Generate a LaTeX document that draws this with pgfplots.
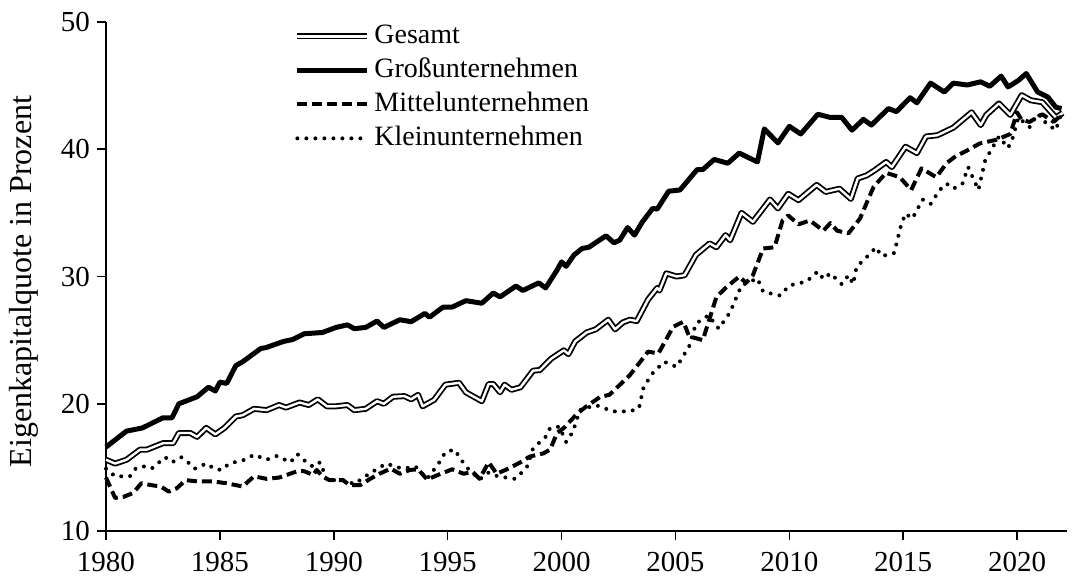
\documentclass[border=0pt]{standalone}
\usepackage{fontspec}
\setmainfont{Liberation Serif}
\usepackage{pgfplots}
\pgfplotsset{compat=1.18}
\begin{document}
\begin{tikzpicture}
\useasboundingbox (-53pt,-27pt) rectangle (484.5pt,265.5pt);
\begin{axis}[
  scale only axis, width=480.5pt, height=254.5pt,
  at={(0,0)}, anchor=south west,
  xmin=1980, xmax=2022.19, ymin=10, ymax=50,
  axis x line*=bottom, axis y line*=left,
  x axis line style={line width=1pt},
  y axis line style={line width=0.8pt},
  xtick={1980,1985,...,2020}, ytick={10,20,...,50},
  tick align=outside, major tick length=4.5pt,
  tick style={line width=0.8pt, black},
  x tick label style={/pgf/number format/1000 sep={}, yshift=-2.5pt},
  /pgf/number format/assume math mode=true,
  tick label style={font=\fontsize{14.5}{16}\selectfont},
  ylabel={Eigenkapitalquote in Prozent},
  ylabel style={font=\fontsize{16}{18}\selectfont, at={(axis description cs:-0.085,0.49)}, anchor=center},
  legend style={draw=none, fill=none, at={(axis description cs:0.1956,1.006)}, anchor=north west,
    inner sep=0pt, row sep=0pt, font=\fontsize{14}{16}\selectfont,
    nodes={text height=10pt, text depth=3pt, inner sep=2pt}},
  legend cell align=left,
  legend image code/.code={\draw[#1] (0pt,0pt) -- (35pt,0pt);},
  clip=false,
  line join=round,
]
\addplot[black, line width=0.9pt, double=white, double distance=1.2pt] coordinates {
(1980.0,15.6)(1980.4,15.3)(1980.9,15.6)(1981.5,16.4)(1981.8,16.4)(1982.5,16.9)(1982.95,16.9)
(1983.2,17.7)(1983.7,17.7)(1984.0,17.4)(1984.4,18.1)(1984.8,17.6)(1985.2,18.1)(1985.7,19.0)
(1986.0,19.1)(1986.5,19.6)(1987.05,19.5)(1987.6,19.9)(1987.9,19.7)(1988.5,20.1)(1988.9,19.9)
(1989.3,20.35)(1989.7,19.8)(1990.1,19.8)(1990.6,19.9)(1990.9,19.5)(1991.4,19.6)(1991.9,20.2)
(1992.2,20.0)(1992.6,20.55)(1993.1,20.6)(1993.4,20.35)(1993.7,20.7)(1993.9,19.8)(1994.4,20.3)
(1994.9,21.5)(1995.5,21.65)(1995.8,20.9)(1996.5,20.2)(1996.8,21.55)(1997.0,21.55)(1997.3,20.9)
(1997.5,21.5)(1997.8,21.1)(1998.2,21.3)(1998.75,22.6)(1999.05,22.65)(1999.55,23.55)(2000.1,24.2)
(2000.3,23.9)(2000.6,24.9)(2001.1,25.6)(2001.5,25.85)(2002.05,26.6)(2002.35,25.85)(2002.7,26.4)
(2003.0,26.6)(2003.3,26.5)(2003.8,28.2)(2004.2,29.1)(2004.3,28.9)(2004.6,30.25)(2005.05,30.0)
(2005.4,30.1)(2005.9,31.7)(2006.5,32.6)(2006.8,32.3)(2007.2,33.25)(2007.4,32.85)(2007.9,35.0)
(2008.4,34.3)(2009.15,36.05)(2009.5,35.35)(2009.95,36.5)(2010.4,36.0)(2011.2,37.2)(2011.6,36.65)
(2012.2,36.9)(2012.7,36.1)(2013.0,37.7)(2013.4,37.95)(2013.75,38.35)(2014.25,39.0)(2014.5,38.6)
(2015.1,40.2)(2015.6,39.7)(2016.0,41.0)(2016.5,41.1)(2017.2,41.7)(2017.6,42.3)(2018.0,42.9)
(2018.4,41.9)(2018.65,42.7)(2019.2,43.6)(2019.7,42.7)(2020.2,44.25)(2020.6,43.85)(2021.1,43.7)
(2021.7,42.5)(2022.0,42.85)
};
\addlegendentry{Gesamt}
\addplot[black, line width=2.5pt] coordinates {
(1980.0,16.6)(1980.9,17.85)(1981.6,18.1)(1982.5,18.9)(1982.9,18.9)(1983.2,20.0)(1984.0,20.55)
(1984.5,21.3)(1984.8,21.0)(1985.0,21.7)(1985.3,21.6)(1985.7,23.0)(1986.0,23.3)(1986.8,24.35)
(1987.0,24.4)(1987.8,24.9)(1988.2,25.05)(1988.7,25.5)(1989.5,25.6)(1990.1,26.0)(1990.6,26.2)
(1990.9,25.9)(1991.4,26.0)(1991.9,26.5)(1992.2,26.0)(1992.9,26.6)(1993.4,26.45)(1994.0,27.1)
(1994.2,26.8)(1994.8,27.6)(1995.2,27.6)(1995.8,28.1)(1996.5,27.9)(1997.0,28.7)(1997.3,28.4)
(1998.0,29.25)(1998.3,28.9)(1999.0,29.5)(1999.3,29.1)(1999.8,30.5)(2000.0,31.15)(2000.2,30.8)
(2000.55,31.7)(2000.9,32.2)(2001.2,32.3)(2001.95,33.2)(2002.3,32.65)(2002.55,32.85)(2002.9,33.85)
(2003.2,33.25)(2003.55,34.3)(2004.0,35.35)(2004.2,35.3)(2004.7,36.7)(2005.2,36.8)(2005.95,38.4)
(2006.2,38.4)(2006.7,39.2)(2007.3,38.9)(2007.8,39.7)(2008.6,39.0)(2008.9,41.6)(2009.5,40.5)
(2010.0,41.8)(2010.5,41.2)(2011.25,42.75)(2011.8,42.5)(2012.3,42.5)(2012.75,41.5)(2013.25,42.35)
(2013.6,41.9)(2014.35,43.2)(2014.7,42.95)(2015.3,44.05)(2015.6,43.65)(2016.2,45.2)(2016.8,44.5)
(2017.2,45.2)(2017.8,45.05)(2018.4,45.3)(2018.8,44.95)(2019.3,45.75)(2019.6,44.9)(2020.05,45.4)
(2020.4,45.95)(2020.9,44.5)(2021.35,44.1)(2021.7,43.3)(2021.95,43.2)
};
\addlegendentry{Großunternehmen}
\addplot[black, line width=2pt, dash pattern=on 5pt off 2.5pt] coordinates {
(1980.0,14.2)(1980.4,12.6)(1980.8,12.7)(1981.2,13.0)(1981.55,13.75)(1982.0,13.6)(1982.4,13.5)
(1982.75,13.1)(1983.1,13.35)(1983.5,14.0)(1984.0,13.9)(1984.7,13.9)(1985.3,13.75)(1986.0,13.5)
(1986.5,14.3)(1987.05,14.1)(1987.6,14.2)(1988.4,14.7)(1988.7,14.7)(1989.1,14.4)(1989.25,14.8)
(1989.5,14.3)(1989.8,14.0)(1990.4,14.0)(1990.7,13.6)(1991.15,13.6)(1991.6,14.1)(1992.0,14.5)
(1992.5,14.9)(1992.9,14.5)(1993.35,14.8)(1993.7,14.85)(1994.1,14.05)(1994.7,14.5)(1995.2,14.85)
(1995.7,14.5)(1996.1,14.65)(1996.4,14.1)(1996.8,15.4)(1997.15,14.5)(1997.6,14.85)(1998.2,15.4)
(1998.6,15.85)(1999.2,16.1)(1999.5,16.4)(1999.8,17.7)(2000.1,18.1)(2000.7,19.25)(2001.1,19.8)
(2001.7,20.55)(2002.1,20.7)(2003.0,22.25)(2003.5,23.4)(2003.8,24.1)(2004.25,23.95)(2004.9,26.05)
(2005.35,26.45)(2005.6,25.3)(2006.2,25.0)(2006.8,28.4)(2007.2,29.1)(2007.8,30.0)(2008.1,29.5)
(2008.4,30.1)(2008.85,32.2)(2009.35,32.3)(2009.7,34.4)(2009.95,34.8)(2010.4,34.1)(2010.9,34.4)
(2011.5,33.6)(2011.8,34.2)(2012.1,33.6)(2012.6,33.4)(2013.1,34.55)(2013.7,37.05)(2014.25,38.15)
(2014.85,37.8)(2015.35,36.8)(2015.8,38.5)(2016.45,37.8)(2016.9,38.9)(2017.3,39.45)(2017.8,39.9)
(2018.35,40.45)(2019.1,40.75)(2019.7,41.2)(2020.0,42.9)(2020.2,42.3)(2020.55,42.15)(2021.1,42.75)
(2021.6,42.15)(2021.95,42.7)
};
\addlegendentry{Mittelunternehmen}
\addplot[black, line width=2pt, line cap=round, dash pattern=on 0pt off 4.5pt] coordinates {
(1980.0,14.9)(1980.4,14.3)(1981.05,14.3)(1981.3,14.9)(1981.6,15.1)(1982.0,14.9)(1982.6,15.8)
(1982.9,15.4)(1983.3,15.8)(1983.6,15.4)(1983.9,14.9)(1984.4,15.3)(1984.8,14.85)(1985.1,14.8)
(1985.4,15.3)(1986.1,15.6)(1986.5,16.0)(1987.05,15.6)(1987.5,15.9)(1988.1,15.4)(1988.4,16.05)
(1988.8,15.4)(1989.1,15.05)(1989.4,15.4)(1989.7,14.0)(1990.4,14.0)(1990.9,13.7)(1991.6,14.55)
(1992.3,15.3)(1993.0,14.9)(1993.6,15.05)(1994.1,14.1)(1994.6,15.3)(1994.9,16.2)(1995.3,16.4)
(1995.6,15.6)(1995.8,15.05)(1996.4,14.05)(1996.8,14.6)(1997.2,14.3)(1997.95,14.1)(1998.2,14.5)
(1998.5,15.1)(1998.75,16.5)(1999.3,17.4)(1999.5,18.1)(1999.9,18.2)(2000.2,17.0)(2000.5,17.8)
(2000.8,19.5)(2001.5,19.9)(2002.25,19.4)(2003.0,19.4)(2003.4,19.65)(2003.6,21.3)(2004.0,22.4)
(2004.5,23.3)(2005.05,22.9)(2005.6,24.5)(2005.9,26.3)(2006.45,26.95)(2006.9,25.9)(2007.4,27.2)
(2007.9,29.3)(2008.6,29.85)(2008.85,28.8)(2009.6,28.5)(2010.0,29.3)(2010.75,29.6)(2011.25,30.4)
(2011.5,29.8)(2011.8,30.25)(2012.3,29.4)(2012.6,30.1)(2012.8,29.4)(2012.95,30.75)(2013.55,31.8)
(2013.8,32.3)(2014.05,31.6)(2014.6,31.85)(2014.9,34.0)(2015.1,34.95)(2015.4,34.55)(2015.85,36.05)
(2016.2,35.7)(2016.6,36.8)(2016.9,37.3)(2017.2,36.9)(2017.6,37.3)(2017.85,38.6)(2018.3,36.8)
(2018.6,39.15)(2019.2,41.0)(2019.6,40.1)(2019.8,40.85)(2020.05,42.5)(2020.55,41.75)(2020.9,42.8)
(2021.3,42.0)(2021.7,41.5)(2021.95,42.9)
};
\addlegendentry{Kleinunternehmen}
\end{axis}
\end{tikzpicture}
\end{document}
